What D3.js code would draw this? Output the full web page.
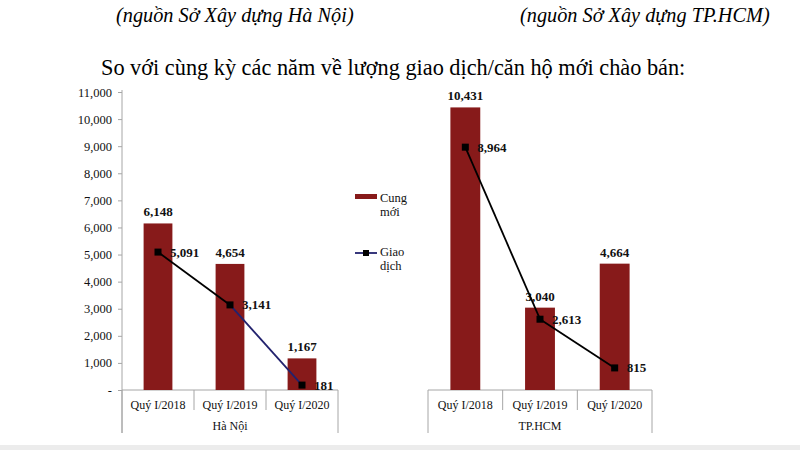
<!DOCTYPE html>
<html>
<head>
<meta charset="utf-8">
<script src="https://cdn.jsdelivr.net/npm/d3@7"></script>
<style>
  html, body { margin: 0; padding: 0; background: #fff; }
  svg { display: block; }
  text { font-family: "Liberation Serif", "Times New Roman", serif; }
</style>
</head>
<body>
<svg id="chart" width="800" height="450" font-family="Liberation Serif, serif"></svg>
<script>
// ---- data ----
const categories = ["Quý I/2018", "Quý I/2019", "Quý I/2020"];
const hanoiSupply = [6148, 4654, 1167];
const hanoiSales = [5091, 3141, 181];
const hcmSupply = [10431, 3040, 4664];
const hcmSales = [8964, 2613, 815];
const yTicks = [0, 1000, 2000, 3000, 4000, 5000, 6000, 7000, 8000, 9000, 10000, 11000];
const groupLabels = ["Hà Nội", "TP.HCM"];
const legendLabels = [["Cung", "mới"], ["Giao", "dịch"]];
const sourceLabels = ["(nguồn Sở Xây dựng Hà Nội)", "(nguồn Sở Xây dựng TP.HCM)"];
const titleText = "So với cùng kỳ các năm về lượng giao dịch/căn hộ mới chào bán:";

// ---- styles ----
const barColor = "#871a1a";
const navy = "#22226e";
const axisColor = "#a6a6a6";
const serif = "Liberation Serif, serif";

const svg = d3.select("#chart");
svg.append("rect").attr("x", 0).attr("y", 445).attr("width", 800).attr("height", 5).attr("fill", "#ececec");

// headings
svg.append("text").attr("x", 116).attr("y", 22).attr("font-family", serif).attr("font-size", 20.3).attr("font-style", "italic").text(sourceLabels[0]);
svg.append("text").attr("x", 520).attr("y", 22).attr("font-family", serif).attr("font-size", 20.3).attr("font-style", "italic").text(sourceLabels[1]);
svg.append("text").attr("x", 101).attr("y", 75).attr("font-family", serif).attr("font-size", 22.3).text(titleText);

const y = d3.scaleLinear().domain([0, 11000]).range([390, 92]);
const fmt = d3.format(",");

// y axis (left chart only)
const yAxisG = svg.append("g").attr("transform", "translate(122,0)");
yAxisG.call(d3.axisLeft(y).tickValues(yTicks).tickSize(4).tickPadding(6)
  .tickFormat(d => d === 0 ? "-" : fmt(d)));
yAxisG.attr("font-family", serif);
yAxisG.select(".domain").remove();
yAxisG.selectAll(".tick line").attr("stroke", axisColor);
yAxisG.selectAll(".tick text").attr("font-family", serif).attr("font-size", 12.5).attr("fill", "#111");
yAxisG.append("line").attr("x1", 0).attr("x2", 0).attr("y1", 90).attr("y2", 433).attr("stroke", axisColor);

function drawPanel(x0, x1, supply, sales, group, segColors) {
  const x = d3.scaleBand().domain(categories).range([x0, x1]).padding(0);
  const bw = x.bandwidth() * 0.4;
  const g = svg.append("g").attr("font-family", serif);

  // axis frame
  g.append("line").attr("x1", x0).attr("x2", x1).attr("y1", y(0)).attr("y2", y(0)).attr("stroke", axisColor);
  categories.forEach((c, i) => {
    if (i > 0) {
      g.append("line").attr("x1", x(c)).attr("x2", x(c)).attr("y1", y(0)).attr("y2", 410).attr("stroke", axisColor);
    }
  });
  g.append("line").attr("x1", x0).attr("x2", x0).attr("y1", y(0)).attr("y2", 433).attr("stroke", axisColor);
  g.append("line").attr("x1", x1).attr("x2", x1).attr("y1", y(0)).attr("y2", 433).attr("stroke", axisColor);

  // category labels
  g.selectAll(".cat").data(categories).join("text")
    .attr("x", d => x(d) + x.bandwidth() / 2).attr("y", 409)
    .attr("text-anchor", "middle").attr("font-size", 12).attr("fill", "#111").text(d => d);
  g.append("text").attr("x", (x0 + x1) / 2).attr("y", 430).attr("text-anchor", "middle")
    .attr("font-size", 12).attr("fill", "#111").text(group);

  // bars
  g.selectAll(".bar").data(supply).join("rect")
    .attr("x", (d, i) => x(categories[i]) + x.bandwidth() / 2 - bw / 2)
    .attr("y", d => y(d)).attr("width", bw).attr("height", d => y(0) - y(d))
    .attr("fill", barColor);
  g.selectAll(".blabel").data(supply).join("text")
    .attr("x", (d, i) => x(categories[i]) + x.bandwidth() / 2)
    .attr("y", d => y(d) - 7).attr("text-anchor", "middle")
    .attr("font-size", 13).attr("font-weight", "bold").attr("fill", "#111").text(d => fmt(d));

  // line
  const pts = sales.map((v, i) => [x(categories[i]) + x.bandwidth() / 2, y(v)]);
  for (let i = 0; i < pts.length - 1; i++) {
    g.append("path").attr("d", d3.line()([pts[i], pts[i + 1]]))
      .attr("stroke", segColors[i]).attr("stroke-width", 1.8).attr("fill", "none");
  }
  g.selectAll(".mk").data(pts).join("rect")
    .attr("x", d => d[0] - 3.5).attr("y", d => d[1] - 3.5).attr("width", 7).attr("height", 7).attr("fill", "#000");
  g.selectAll(".llabel").data(sales).join("text")
    .attr("x", (d, i) => pts[i][0] + 12).attr("y", (d, i) => pts[i][1] + 4.5)
    .attr("font-size", 13).attr("font-weight", "bold").attr("fill", "#111").text(d => fmt(d));
}

drawPanel(122, 338, hanoiSupply, hanoiSales, groupLabels[0], ["#000", navy]);
drawPanel(428, 652, hcmSupply, hcmSales, groupLabels[1], ["#000", "#000"]);

// legend
const lg = svg.append("g").attr("font-family", serif);
lg.append("rect").attr("x", 355).attr("y", 194).attr("width", 22).attr("height", 5).attr("fill", barColor);
lg.append("text").attr("x", 380).attr("y", 202).attr("font-size", 12.5).attr("fill", "#111").text(legendLabels[0][0]);
lg.append("text").attr("x", 380).attr("y", 216).attr("font-size", 12.5).attr("fill", "#111").text(legendLabels[0][1]);
lg.append("line").attr("x1", 355).attr("x2", 377).attr("y1", 253).attr("y2", 253).attr("stroke", navy).attr("stroke-width", 1.8);
lg.append("rect").attr("x", 363).attr("y", 250).attr("width", 6).attr("height", 6).attr("fill", "#000");
lg.append("text").attr("x", 380).attr("y", 256).attr("font-size", 12.5).attr("fill", "#111").text(legendLabels[1][0]);
lg.append("text").attr("x", 380).attr("y", 270).attr("font-size", 12.5).attr("fill", "#111").text(legendLabels[1][1]);
</script>
</body>
</html>
